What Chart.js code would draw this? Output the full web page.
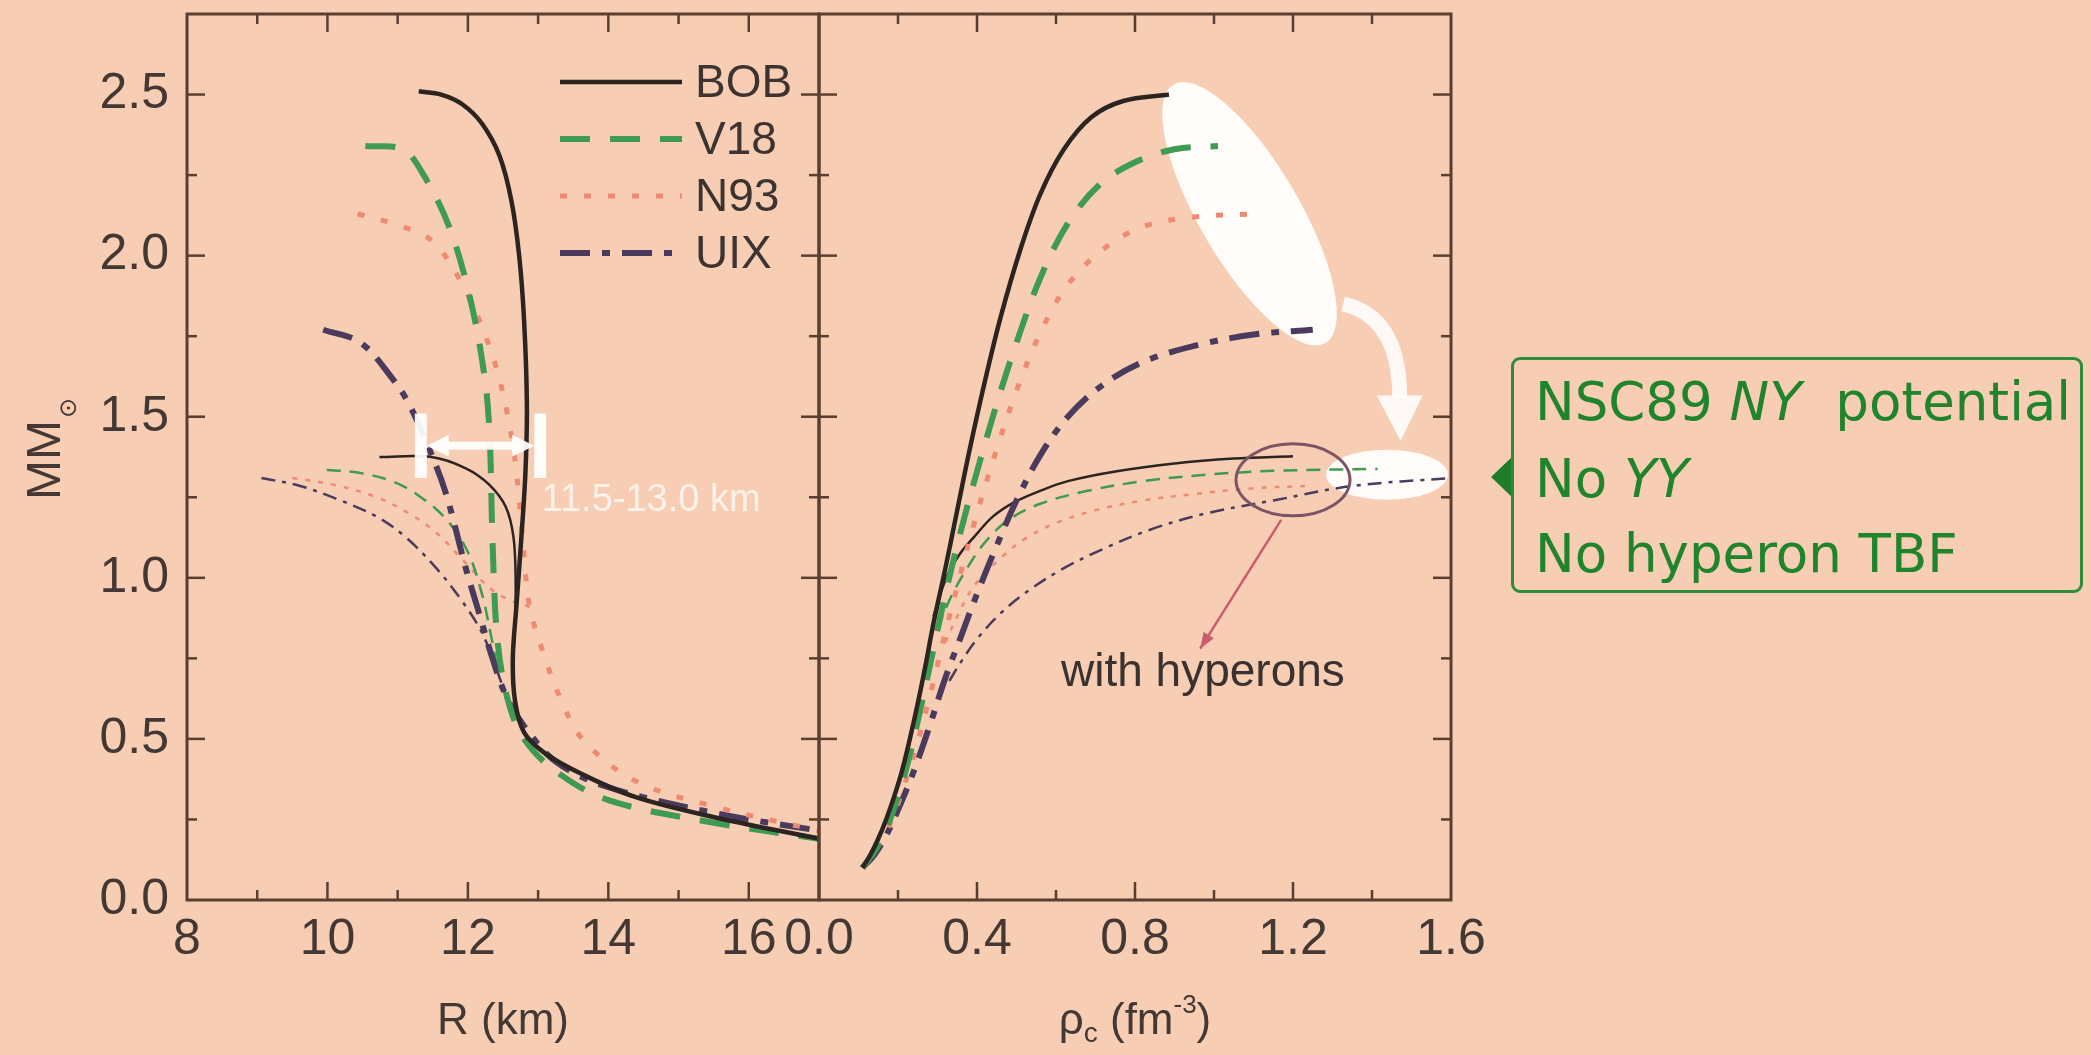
<!DOCTYPE html>
<html>
<head>
<meta charset="utf-8">
<script src="https://cdn.jsdelivr.net/npm/chart.js@4.4.1/dist/chart.umd.min.js"></script>
<style>
  body { margin:0; width:2091px; height:1055px; overflow:hidden; position:relative; background:#f7cdb3; }
  canvas { position:absolute; top:0; }
  #mr { left:0; }
  #rho { left:760px; }
  #callout { position:absolute; left:1511px; top:357px; width:566px; height:230px;
    border:3px solid #2f8c3b; border-radius:9px; }
  #callout .ln { position:absolute; left:21px; font-family:'DejaVu Sans'; font-size:53px;
    color:#1f842b; line-height:1; white-space:pre; }
  #pointer { position:absolute; left:1491px; top:456px; width:0; height:0;
    border-top:21px solid transparent; border-bottom:21px solid transparent; border-right:22px solid #1e7d2b; }
</style>
</head>
<body>
<canvas id="mr" width="860" height="1055"></canvas>
<canvas id="rho" width="760" height="1055"></canvas>
<div id="pointer"></div>
<div id="callout">
  <div class="ln" style="top:15px">NSC89 <i>NY</i>  potential</div>
  <div class="ln" style="top:92px">No <i>YY</i></div>
  <div class="ln" style="top:167px">No hyperon TBF</div>
</div>
<script>
// ---- data: [R (km), M/Msun] and [rho_c (fm^-3), M/Msun] ----
const names = ['BOB', 'V18', 'N93', 'UIX'];

// nucleonic stars, mass vs radius
const bobMR = [[11.30,2.51],[11.62,2.50],[11.92,2.47],[12.20,2.41],[12.45,2.31],[12.62,2.17],[12.73,2.00],[12.80,1.80],[12.84,1.54],[12.82,1.33],[12.76,1.12],[12.69,0.91],[12.64,0.75],[12.67,0.62],[12.80,0.52],[13.10,0.455],[13.63,0.39],[14.38,0.32],[15.51,0.257],[17.0,0.19]];
const v18MR = [[10.54,2.34],[11.07,2.33],[11.37,2.25],[11.75,2.08],[12.05,1.85],[12.24,1.62],[12.31,1.44],[12.35,1.12],[12.42,0.81],[12.57,0.62],[12.80,0.50],[13.25,0.40],[14.0,0.31],[15.5,0.24],[17.0,0.19]];
const n93MR = [[10.43,2.13],[11.07,2.09],[11.52,2.04],[11.97,1.89],[12.35,1.69],[12.57,1.50],[12.69,1.33],[12.78,1.12],[12.88,0.91],[13.10,0.75],[13.33,0.62],[13.63,0.50],[14.38,0.37],[15.51,0.29],[17.0,0.215]];
const uixMR = [[9.94,1.77],[10.47,1.73],[10.92,1.62],[11.16,1.54],[11.45,1.40],[11.69,1.26],[11.97,1.03],[12.16,0.89],[12.35,0.75],[12.55,0.63],[12.80,0.54],[13.25,0.43],[14.0,0.35],[15.51,0.27],[17.0,0.215]];

// hyperon stars, mass vs radius
const bobHypMR = [[10.74,1.375],[11.48,1.375],[11.97,1.34],[12.30,1.29],[12.54,1.22],[12.65,1.125],[12.68,0.99],[12.67,0.84],[12.64,0.75]];
const v18HypMR = [[9.99,1.335],[10.45,1.326],[10.92,1.30],[11.30,1.255],[11.70,1.18],[12.0,1.08],[12.2,0.95],[12.33,0.82],[12.42,0.72]];
const n93HypMR = [[9.50,1.31],[10.07,1.29],[10.70,1.25],[11.16,1.20],[11.55,1.14],[11.95,1.05],[12.3,0.97],[12.6,0.93],[12.88,0.91]];
const uixHypMR = [[9.06,1.31],[9.60,1.286],[10.13,1.245],[10.70,1.19],[11.12,1.125],[11.55,1.03],[11.91,0.93],[12.2,0.83],[12.4,0.72],[12.55,0.63]];

// nucleonic stars, mass vs central density
const bobRho = [[0.11,0.10],[0.13,0.14],[0.15,0.19],[0.17,0.25],[0.19,0.32],[0.21,0.40],[0.23,0.50],[0.25,0.61],[0.27,0.73],[0.29,0.86],[0.32,1.03],[0.35,1.21],[0.38,1.39],[0.42,1.61],[0.46,1.81],[0.51,2.02],[0.56,2.19],[0.62,2.33],[0.69,2.43],[0.77,2.48],[0.886,2.50]];
const v18Rho = [[0.11,0.10],[0.14,0.15],[0.17,0.22],[0.20,0.32],[0.23,0.45],[0.26,0.61],[0.29,0.78],[0.32,0.95],[0.36,1.15],[0.40,1.33],[0.45,1.54],[0.50,1.73],[0.56,1.93],[0.63,2.10],[0.71,2.22],[0.80,2.29],[0.90,2.33],[1.01,2.34]];
const n93Rho = [[0.11,0.10],[0.14,0.15],[0.17,0.21],[0.20,0.30],[0.24,0.45],[0.28,0.63],[0.32,0.83],[0.36,1.02],[0.40,1.20],[0.45,1.40],[0.50,1.58],[0.56,1.76],[0.63,1.91],[0.72,2.02],[0.82,2.09],[0.95,2.12],[1.12,2.13]];
const uixRho = [[0.11,0.10],[0.14,0.14],[0.17,0.20],[0.20,0.28],[0.24,0.40],[0.28,0.54],[0.32,0.69],[0.36,0.82],[0.40,0.95],[0.45,1.10],[0.50,1.24],[0.56,1.38],[0.63,1.50],[0.72,1.60],[0.82,1.67],[0.95,1.72],[1.10,1.755],[1.25,1.77]];

// hyperon stars, mass vs central density
const bobHypRho = [[0.29,0.88],[0.31,0.96],[0.33,1.02],[0.36,1.08],[0.395,1.13],[0.44,1.19],[0.495,1.235],[0.56,1.27],[0.63,1.30],[0.75,1.33],[0.90,1.355],[1.05,1.37],[1.20,1.377]];
const v18HypRho = [[0.30,0.84],[0.33,0.93],[0.37,1.02],[0.42,1.11],[0.48,1.18],[0.56,1.23],[0.68,1.27],[0.82,1.30],[0.98,1.32],[1.15,1.332],[1.414,1.338]];
const n93HypRho = [[0.32,0.80],[0.35,0.88],[0.39,0.97],[0.45,1.05],[0.52,1.12],[0.60,1.17],[0.70,1.21],[0.82,1.24],[0.95,1.26],[1.10,1.278],[1.23,1.285]];
const uixHypRho = [[0.33,0.68],[0.36,0.74],[0.40,0.81],[0.46,0.89],[0.53,0.96],[0.62,1.03],[0.72,1.09],[0.84,1.15],[0.98,1.20],[1.15,1.24],[1.35,1.285],[1.60,1.31]];

// tick labels
const rTickLabels = [8, 10, 12, 14, 16];
const rhoTickLabels = [0.0, 0.4, 0.8, 1.2, 1.6];
const massTickLabels = [0.0, 0.5, 1.0, 1.5, 2.0, 2.5];

// ---- styles ----
const AXIS = '#5a3f31';
const TEXT = '#433834';
const FONT = "'Liberation Sans', Arial, sans-serif";
const styles = {
  BOB: { color:'#2b2421', width:4.5, dash:[], thinWidth:2.5, thinDash:[] },
  V18: { color:'#3f9a52', width:6, dash:[30,20], thinWidth:2.5, thinDash:[14,9] },
  N93: { color:'#ef8a72', width:5, dash:[7,17], thinWidth:2.5, thinDash:[5,8] },
  UIX: { color:'#4a3b5e', width:6, dash:[30,12,8,12], thinWidth:2.5, thinDash:[14,7,4,7] }
};

Chart.defaults.font.family = FONT;
Chart.defaults.color = TEXT;

function mkSet(points, name, thin) {
  const s = styles[name];
  return {
    label: name,
    data: points.map(p => ({ x: p[0], y: p[1] })),
    showLine: true,
    borderColor: s.color,
    borderWidth: thin ? s.thinWidth : s.width,
    borderDash: thin ? s.thinDash : s.dash,
    borderCapStyle: 'butt',
    pointRadius: 0,
    tension: 0.35,
    fill: false
  };
}

function near(v, list) { return list.some(t => Math.abs(t - v) < 1e-6); }

function line(ctx, x1, y1, x2, y2) { ctx.beginPath(); ctx.moveTo(x1, y1); ctx.lineTo(x2, y2); ctx.stroke(); }

// frame on all four sides with inward ticks taken from the scales
const framePlugin = {
  id: 'frame',
  afterDatasetsDraw(chart, args, opts) {
    const { ctx, chartArea: a, scales } = chart;
    const xs = scales.x, ys = scales.y;
    ctx.save();
    ctx.strokeStyle = AXIS;
    ctx.lineWidth = 2.5;
    xs.ticks.forEach(t => {
      if (t.value <= xs.min + 1e-9 || t.value >= xs.max - 1e-9) return;
      const p = xs.getPixelForValue(t.value);
      const len = near(t.value, opts.xMajor) ? 18 : 10;
      line(ctx, p, a.bottom, p, a.bottom - len);
      line(ctx, p, a.top, p, a.top + len);
    });
    ys.ticks.forEach(t => {
      if (t.value <= ys.min + 1e-9 || t.value >= ys.max - 1e-9) return;
      const p = ys.getPixelForValue(t.value);
      const len = near(t.value, massTickLabels) ? 18 : 10;
      line(ctx, a.left, p, a.left + len, p);
      line(ctx, a.right, p, a.right - len, p);
    });
    ctx.lineWidth = 3;
    ctx.strokeRect(a.left, a.top, a.right - a.left, a.bottom - a.top);
    ctx.restore();
  }
};

function arrowHead(ctx, x, y, ang, len, w) {
  ctx.beginPath();
  ctx.moveTo(x, y);
  ctx.lineTo(x - len * Math.cos(ang) + w * Math.sin(ang), y - len * Math.sin(ang) - w * Math.cos(ang));
  ctx.lineTo(x - len * Math.cos(ang) - w * Math.sin(ang), y - len * Math.sin(ang) + w * Math.cos(ang));
  ctx.closePath();
  ctx.fill();
}

// left panel: legend, radius band, axis titles
const mrDecor = {
  id: 'mrDecor',
  afterDatasetsDraw(chart) {
    const { ctx, chartArea: a, scales: { x, y } } = chart;
    ctx.save();
    // legend
    names.forEach((n, i) => {
      const ds = chart.data.datasets[i];
      const ly = a.top + 68 + i * 57;
      ctx.strokeStyle = ds.borderColor;
      ctx.lineWidth = ds.borderWidth;
      ctx.setLineDash(ds.borderDash);
      line(ctx, a.left + 373, ly, a.left + 495, ly);
      ctx.setLineDash([]);
      ctx.fillStyle = '#3d3432';
      ctx.font = '46px ' + FONT;
      ctx.textAlign = 'left';
      ctx.textBaseline = 'middle';
      ctx.fillText(n, a.left + 508, ly + 2);
    });
    // 11.5-13.0 km band
    const x1 = x.getPixelForValue(11.33), x2 = x.getPixelForValue(13.03);
    const yt = y.getPixelForValue(1.51), yb = y.getPixelForValue(1.31), ym = y.getPixelForValue(1.41);
    ctx.fillStyle = 'rgba(255,255,255,0.93)';
    ctx.fillRect(x1 - 6, yt, 12, yb - yt);
    ctx.fillRect(x2 - 6, yt, 12, yb - yt);
    ctx.fillRect(x1 + 20, ym - 4, x2 - x1 - 40, 8);
    arrowHead(ctx, x1 + 6, ym, Math.PI, 22, 11);
    arrowHead(ctx, x2 - 6, ym, 0, 22, 11);
    ctx.fillStyle = 'rgba(255,246,240,0.9)';
    ctx.font = '38px ' + FONT;
    ctx.textBaseline = 'middle';
    ctx.fillText('11.5-13.0 km', x.getPixelForValue(13.05), y.getPixelForValue(1.24));
    // axis titles
    ctx.fillStyle = TEXT;
    ctx.font = '44px ' + FONT;
    ctx.textAlign = 'center';
    ctx.fillText('R (km)', (a.left + a.right) / 2, 1022);
    ctx.save();
    ctx.translate(47, 460);
    ctx.rotate(-Math.PI / 2);
    ctx.font = '48px ' + FONT;
    ctx.fillText('MM', 0, 0);
    const w = ctx.measureText('MM').width;
    ctx.font = '24px DejaVu Sans';
    ctx.fillText('\u2299', w / 2 + 12, 23);
    ctx.restore();
    ctx.restore();
  }
};

// right panel: highlight ellipses, arrows, circle, labels, axis title
const rhoUnder = {
  id: 'rhoUnder',
  beforeDatasetsDraw(chart) {
    const { ctx, scales: { x, y } } = chart;
    ctx.save();
    ctx.fillStyle = 'rgba(255,255,255,0.93)';
    ctx.beginPath();
    ctx.ellipse(x.getPixelForValue(1.09), y.getPixelForValue(2.13), 150, 50, 1.04, 0, Math.PI * 2);
    ctx.fill();
    ctx.beginPath();
    ctx.ellipse(x.getPixelForValue(1.438), y.getPixelForValue(1.32), 61, 25, 0, 0, Math.PI * 2);
    ctx.fill();
    ctx.restore();
  },
  afterDatasetsDraw(chart) {
    const { ctx, chartArea: a, scales: { x, y } } = chart;
    ctx.save();
    // curved white arrow
    const sx = x.getPixelForValue(1.327), sy = y.getPixelForValue(1.85);
    const cx = x.getPixelForValue(1.47), cy = y.getPixelForValue(1.81);
    const ex = x.getPixelForValue(1.47), ey = y.getPixelForValue(1.56);
    ctx.strokeStyle = 'rgba(255,255,255,0.88)';
    ctx.lineWidth = 15;
    ctx.beginPath();
    ctx.moveTo(sx, sy);
    ctx.quadraticCurveTo(cx, cy, ex, ey);
    ctx.stroke();
    ctx.fillStyle = 'rgba(255,255,255,0.88)';
    ctx.beginPath();
    ctx.moveTo(ex - 23, ey - 2);
    ctx.lineTo(ex + 23, ey - 2);
    ctx.lineTo(ex + 1, y.getPixelForValue(1.425));
    ctx.closePath();
    ctx.fill();
    // circle around hyperon maxima
    ctx.strokeStyle = '#7b5566';
    ctx.lineWidth = 3;
    ctx.beginPath();
    ctx.ellipse(x.getPixelForValue(1.20), y.getPixelForValue(1.304), 57, 36, 0, 0, Math.PI * 2);
    ctx.stroke();
    // red pointer
    const px1 = x.getPixelForValue(1.17), py1 = y.getPixelForValue(1.18);
    const px2 = x.getPixelForValue(0.965), py2 = y.getPixelForValue(0.78);
    ctx.strokeStyle = '#cc5b6c';
    ctx.fillStyle = '#cc5b6c';
    ctx.lineWidth = 2.5;
    line(ctx, px1, py1, px2, py2);
    arrowHead(ctx, px2, py2, Math.atan2(py2 - py1, px2 - px1), 16, 6);
    // label
    ctx.fillStyle = '#3a3131';
    ctx.font = '46px ' + FONT;
    ctx.textAlign = 'center';
    ctx.textBaseline = 'middle';
    ctx.fillText('with hyperons', x.getPixelForValue(0.972), y.getPixelForValue(0.703));
    // axis title rho_c (fm^-3)
    ctx.fillStyle = TEXT;
    const parts = [['\u03c1', '44px ' + FONT, 0], ['c', '28px ' + FONT, 12], [' (fm', '44px ' + FONT, 0], ['-3', '26px ' + FONT, -16], [')', '44px ' + FONT, 0]];
    let total = 0;
    parts.forEach(p => { ctx.font = p[1]; total += ctx.measureText(p[0]).width; });
    let tx = (a.left + a.right) / 2 - total / 2;
    ctx.textAlign = 'left';
    parts.forEach(p => { ctx.font = p[1]; ctx.fillText(p[0], tx, 1022 + p[2]); tx += ctx.measureText(p[0]).width; });
    ctx.restore();
  }
};

function massAxis(showLabels, width) {
  return {
    type: 'linear', position: 'left', min: 0, max: 2.75,
    grid: { display: false, drawTicks: false },
    border: { display: false },
    ticks: {
      display: showLabels, stepSize: 0.25, padding: 18,
      font: { size: 50 }, color: TEXT,
      callback: v => near(v, massTickLabels) ? v.toFixed(1) : ''
    },
    afterFit(s) { s.width = width; s.paddingTop = 0; s.paddingBottom = 0; }
  };
}

function bottomAxis(min, max, step, labels, digits) {
  return {
    type: 'linear', position: 'bottom', min: min, max: max,
    grid: { display: false, drawTicks: false },
    border: { display: false },
    ticks: {
      stepSize: step, padding: 10, maxRotation: 0, autoSkip: false,
      font: { size: 50 }, color: TEXT,
      callback: v => near(v, labels) ? v.toFixed(digits) : ''
    },
    afterFit(s) { s.height = 155; s.paddingLeft = 0; s.paddingRight = 0; }
  };
}

const baseOpts = {
  responsive: false, animation: false, events: [],
  plugins: { legend: { display: false }, tooltip: { enabled: false } }
};

new Chart(document.getElementById('mr'), {
  type: 'scatter',
  data: {
    datasets: [
      mkSet(bobMR, 'BOB'), mkSet(v18MR, 'V18'), mkSet(n93MR, 'N93'), mkSet(uixMR, 'UIX'),
      mkSet(bobHypMR, 'BOB', true), mkSet(v18HypMR, 'V18', true), mkSet(n93HypMR, 'N93', true), mkSet(uixHypMR, 'UIX', true)
    ]
  },
  options: Object.assign({}, baseOpts, {
    layout: { padding: { top: 14, right: 41, left: 0, bottom: 0 } },
    plugins: Object.assign({}, baseOpts.plugins, { frame: { xMajor: rTickLabels } }),
    scales: { x: bottomAxis(8, 17, 1, rTickLabels, 0), y: massAxis(true, 187) }
  }),
  plugins: [framePlugin, mrDecor]
});

new Chart(document.getElementById('rho'), {
  type: 'scatter',
  data: {
    datasets: [
      mkSet(bobRho, 'BOB'), mkSet(v18Rho, 'V18'), mkSet(n93Rho, 'N93'), mkSet(uixRho, 'UIX'),
      mkSet(bobHypRho, 'BOB', true), mkSet(v18HypRho, 'V18', true), mkSet(n93HypRho, 'N93', true), mkSet(uixHypRho, 'UIX', true)
    ]
  },
  options: Object.assign({}, baseOpts, {
    layout: { padding: { top: 14, right: 69, left: 0, bottom: 0 } },
    plugins: Object.assign({}, baseOpts.plugins, { frame: { xMajor: rhoTickLabels } }),
    scales: { x: bottomAxis(0, 1.6, 0.2, rhoTickLabels, 1), y: massAxis(false, 59) }
  }),
  plugins: [rhoUnder, framePlugin]
});
</script>
</body>
</html>
